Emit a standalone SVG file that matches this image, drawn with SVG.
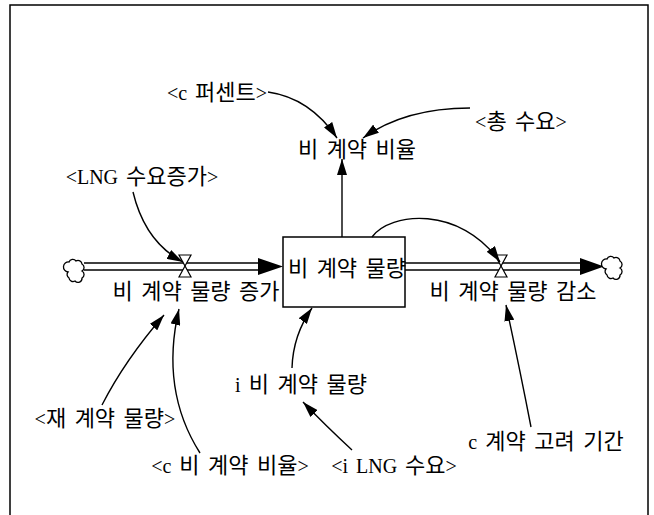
<svg xmlns="http://www.w3.org/2000/svg" width="654" height="515" viewBox="0 0 654 515">
<style>
text{font-family:"Liberation Serif","Noto Sans CJK KR",serif;font-size:22px;word-spacing:3px;fill:#000;text-anchor:middle}
.l{font-size:20px}
.lnk{fill:none;stroke:#000;stroke-width:1.4}
.pipe{stroke:#000;stroke-width:1.5}
.valve{fill:#fff;stroke:#000;stroke-width:1.2}
.cloud{fill:#fff;stroke:#000;stroke-width:1.3}
</style>
<defs>
<marker id="ah" viewBox="0 0 16 10" refX="16" refY="5" markerWidth="16" markerHeight="10" markerUnits="userSpaceOnUse" orient="auto">
<path d="M0,0 L16,5 L0,10 z" fill="#000"/>
</marker>
<path id="cloudShape" class="cloud" d="M-6,-8 a4,4 0 0 1 7,-1 a4,4 0 0 1 6,3 a4,4 0 0 1 0,7 a4,4 0 0 1 0,7 a4,4 0 0 1 -7,3 a4,4 0 0 1 -6,-3 a4,4 0 0 1 -1,-6 a4,4 0 0 1 1,-10 z"/>
</defs>
<rect width="654" height="515" fill="#fff"/>
<rect x="10" y="5" width="638" height="530" fill="none" stroke="#000" stroke-width="1.5"/>

<g id="flows">
<line class="pipe" x1="84" y1="263" x2="259" y2="263"/>
<line class="pipe" x1="84" y1="270" x2="259" y2="270"/>
<polygon points="258,258 283,266.5 258,275" fill="#000"/>
<line class="pipe" x1="405" y1="263" x2="581" y2="263"/>
<line class="pipe" x1="405" y1="270" x2="581" y2="270"/>
<polygon points="580,258 604,266.5 580,275" fill="#000"/>
</g>

<g id="source-cloud"><use href="#cloudShape" x="75" y="270"/></g>
<g id="sink-cloud"><use href="#cloudShape" x="613" y="267"/></g>

<g id="stock">
<rect x="283" y="237" width="122" height="70" fill="#fff" stroke="#000" stroke-width="1.5"/>
<text x="347" y="276">비 계약 물량</text>
</g>

<g id="inflow">
<polygon class="valve" points="179,255 191,255 185,266"/>
<polygon class="valve" points="185,266 179,277 191,277"/>
<text x="196" y="299">비 계약 물량 증가</text>
</g>

<g id="outflow">
<polygon class="valve" points="495,255 507,255 501,266"/>
<polygon class="valve" points="501,266 495,277 507,277"/>
<text x="513" y="299">비 계약 물량 감소</text>
</g>

<g id="ratio"><text x="357" y="157">비 계약 비율</text></g>
<g id="c-percent"><text x="217" y="100"><tspan class="l">&lt;c </tspan>퍼센트<tspan class="l">&gt;</tspan></text></g>
<g id="total-demand"><text x="521" y="129"><tspan class="l">&lt;</tspan>총 수요<tspan class="l">&gt;</tspan></text></g>
<g id="lng-demand-increase"><text x="142" y="184"><tspan class="l">&lt;LNG </tspan>수요증가<tspan class="l">&gt;</tspan></text></g>
<g id="i-noncontract"><text x="301" y="392"><tspan class="l">i </tspan>비 계약 물량</text></g>
<g id="recontract"><text x="105" y="426"><tspan class="l">&lt;</tspan>재 계약 물량<tspan class="l">&gt;</tspan></text></g>
<g id="c-period"><text x="546" y="449"><tspan class="l">c </tspan>계약 고려 기간</text></g>
<g id="c-ratio"><text x="230" y="473"><tspan class="l">&lt;c </tspan>비 계약 비율<tspan class="l">&gt;</tspan></text></g>
<g id="i-lng-demand"><text x="394" y="473"><tspan class="l">&lt;i LNG </tspan>수요<tspan class="l">&gt;</tspan></text></g>

<g id="connectors">
<path class="lnk" marker-end="url(#ah)" d="M268,92 Q310,98 337,138"/>
<path class="lnk" marker-end="url(#ah)" d="M470,108 Q405,108 363,138"/>
<path class="lnk" marker-end="url(#ah)" d="M342,237 L342,159"/>
<path class="lnk" marker-end="url(#ah)" d="M372,237 C390,212 460,205 500,262"/>
<path class="lnk" marker-end="url(#ah)" d="M133,192 Q145,242 183,262"/>
<path class="lnk" marker-end="url(#ah)" d="M102,405 Q125,360 164,315"/>
<path class="lnk" marker-end="url(#ah)" d="M200,453 Q160,390 179,309"/>
<path class="lnk" marker-end="url(#ah)" d="M292,368 Q293,335 312,308"/>
<path class="lnk" marker-end="url(#ah)" d="M352,450 Q325,425 303,402"/>
<path class="lnk" marker-end="url(#ah)" d="M531,427 Q520,370 506,305"/>
</g>
</svg>
